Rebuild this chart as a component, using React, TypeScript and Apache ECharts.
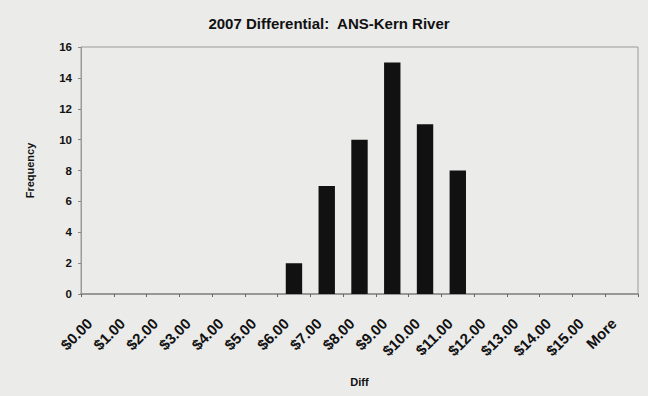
import React, { useEffect, useRef } from "react";
import * as echarts from "echarts";

const categories = ["$0.00", "$1.00", "$2.00", "$3.00", "$4.00", "$5.00", "$6.00", "$7.00", "$8.00", "$9.00", "$10.00", "$11.00", "$12.00", "$13.00", "$14.00", "$15.00", "More"];
const frequency = [0, 0, 0, 0, 0, 0, 2, 7, 10, 15, 11, 8, 0, 0, 0, 0, 0];
const titleText = "2007 Differential:  ANS-Kern River";
const yAxisName = "Frequency";
const xAxisName = "Diff";

export default function App() {
  const ref = useRef<HTMLDivElement>(null);
  useEffect(() => {
    if (!ref.current) return;
    const chart = echarts.init(ref.current, null, { renderer: "svg" });
    const font = "'Liberation Sans', Arial, sans-serif";
    chart.setOption({
      animation: false,
      backgroundColor: "#ebebea",
      title: {
        text: titleText,
        left: 324,
        top: 11,
        textAlign: "center",
        textStyle: { fontFamily: font, fontWeight: "bold", fontSize: 15, color: "#111" },
      },
      grid: {
        left: 81,
        right: 10,
        top: 47,
        bottom: 102,
        show: true,
        borderColor: "#9a9a9a",
        borderWidth: 1,
        backgroundColor: "transparent",
      },
      xAxis: {
        type: "category",
        data: categories,
        name: xAxisName,
        nameLocation: "middle",
        nameGap: 82,
        nameTextStyle: { fontFamily: font, fontWeight: "bold", fontSize: 11, color: "#111" },
        axisLine: { show: true, lineStyle: { color: "#8a8a8a", width: 1.5 } },
        axisTick: { show: true, alignWithLabel: false, length: 3, lineStyle: { color: "#666" } },
        axisLabel: {
          rotate: 45,
          interval: 0,
          margin: 19,
          padding: [0, 11, 0, 0],
          fontFamily: font,
          fontWeight: "bold",
          fontSize: 15,
          color: "#111",
        },
        splitLine: { show: false },
      },
      yAxis: {
        type: "value",
        min: 0,
        max: 16,
        interval: 2,
        name: yAxisName,
        nameLocation: "middle",
        nameGap: 46,
        nameRotate: 90,
        nameTextStyle: { fontFamily: font, fontWeight: "bold", fontSize: 11, color: "#111" },
        axisLine: { show: true, lineStyle: { color: "#9a9a9a", width: 1 } },
        axisTick: { show: true, length: 3, lineStyle: { color: "#888" } },
        axisLabel: { margin: 9, fontFamily: font, fontWeight: "bold", fontSize: 11.5, color: "#111" },
        splitLine: { show: false },
      },
      series: [
        {
          type: "bar",
          data: frequency,
          barWidth: "50%",
          itemStyle: { color: "#111111" },
        },
      ],
    });
    return () => chart.dispose();
  }, []);
  return <div ref={ref} style={{ position: "absolute", left: 0, top: 0, width: 648, height: 396 }} />;
}
